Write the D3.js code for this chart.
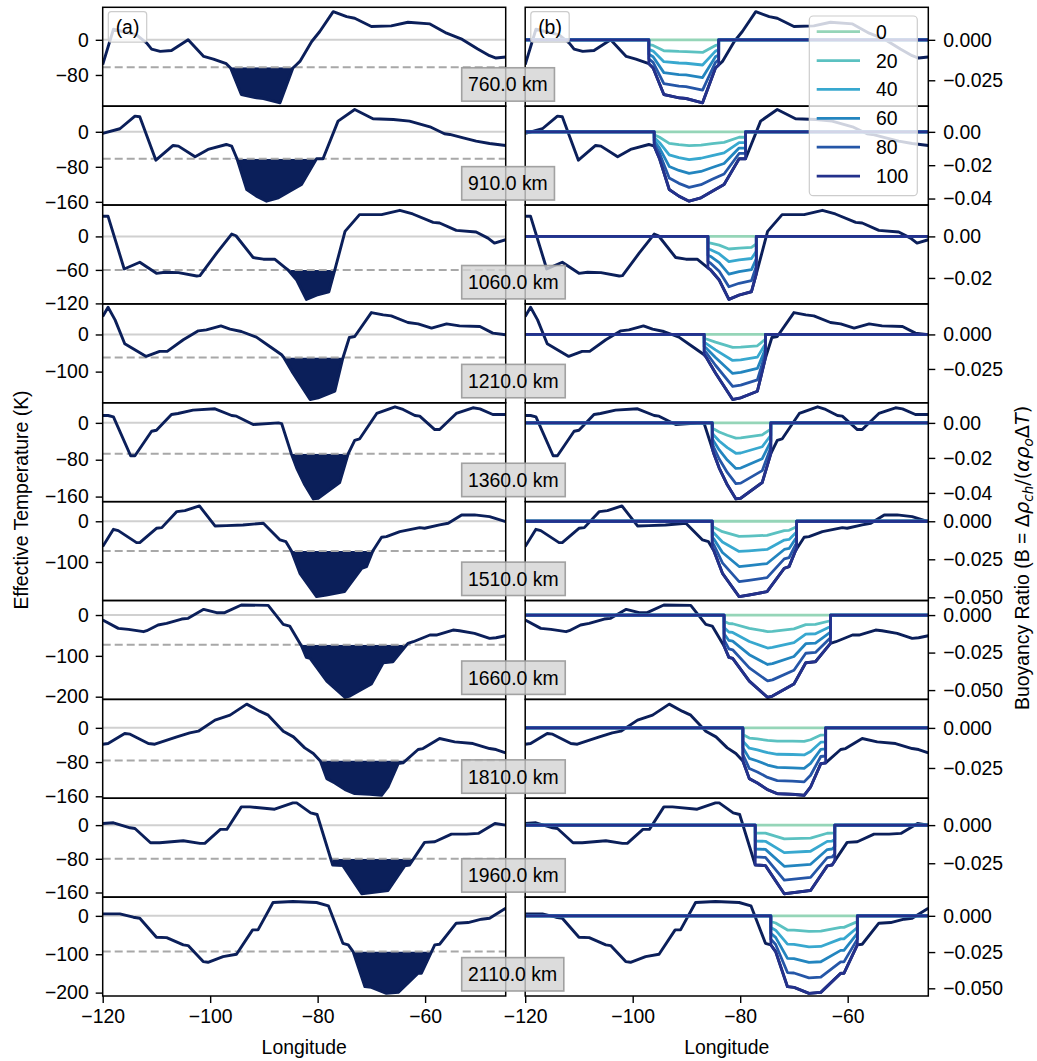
<!DOCTYPE html>
<html>
<head>
<meta charset="utf-8">
<script src="https://cdn.jsdelivr.net/npm/d3@7"></script>
<style>
  body { margin: 0; background: #fff; }
  text { font-family: "Liberation Sans", Arial, sans-serif; }
</style>
</head>
<body>
<svg id="chart" width="1037" height="1061"></svg>
<script>
// ---- data ----
const depthsKm = [760, 910, 1060, 1210, 1360, 1510, 1660, 1810, 1960, 2110];
const thresholds = [-62.6, -61.7, -60, -61.7, -67, -73, -72.8, -76.4, -79.7, -93];
const compositions = [0, 20, 40, 60, 80, 100];
const lonRange = [-120, -45];
const lonTicks = [-120, -100, -80, -60];

const lon760 = [-120, -118, -113.7, -111.8, -110.9, -109.3, -107.2, -104.1, -101.2, -99.4, -97, -96.2, -94.2, -91.4, -90.1, -87, -84.6, -84, -83.3, -81.1, -79.6, -77.1, -74.6, -73.1, -70, -66.3, -63.2, -59.1, -56, -53.3, -50.2, -48, -46.8, -45];
const temp760 = [-56.6, 24, 11.3, -7.5, -21.1, -26.4, -24.2, 0, -37.7, -43.8, -54.3, -64.2, -124.5, -132.1, -133.6, -143.4, -64.2, -57.2, -49.1, -3.8, 18.9, 64.2, 52.8, 49.1, 30.2, 31.7, 40, 36.2, 15.1, 2.3, -21.1, -36.2, -41.5, -39.2];
const lon910 = [-120, -116.8, -114, -113.1, -110.1, -106.9, -105.9, -102.8, -100.4, -97, -96, -95, -93.2, -91.4, -89.5, -87.3, -85.2, -83, -80.2, -79, -76.2, -73.1, -69.7, -65.9, -62.9, -59.1, -56.4, -55.4, -52.9, -50.5, -48, -45];
const temp910 = [-3.8, 6.9, 35.8, 34.3, -64.8, -31.2, -32.8, -57.1, -40.4, -29, -32.8, -61.7, -131.8, -147, -158.5, -150.9, -135.6, -120.4, -61.7, -61.7, 24.4, 51, 29.7, 28.2, 24.4, 11.4, -4.6, -6.1, -13.7, -21.3, -26.7, -31.2];
const lon1060 = [-120, -119, -116, -113.1, -110, -108.4, -105.9, -102.5, -101.9, -98.8, -96, -95.2, -92, -90.1, -88, -86, -85.5, -83.9, -82.1, -80.2, -77.9, -77, -76.8, -74.9, -72.2, -68.1, -64.7, -62.3, -58.5, -57.3, -54.2, -50.5, -48.3, -47.1, -45];
const temp1060 = [36, 36, -58.3, -46.2, -66.1, -64.3, -64.9, -70.9, -70.3, -30, 4.2, 1.2, -37.8, -40.8, -40.8, -56.2, -60.1, -78.1, -112.9, -105.1, -99.1, -67.2, -60.1, 9, 39, 39, 46.8, 40.2, 25.2, 24, 10.8, 7.8, -3, -12, -6];
const lon1210 = [-120, -119, -117.7, -115.9, -111.9, -109.4, -108, -105, -102.2, -100.7, -98, -96.3, -94.2, -91.4, -88.9, -86.7, -86.3, -84.6, -81.4, -79.9, -76.8, -75.3, -74.1, -73.1, -70, -67.8, -66.3, -63.2, -61.3, -58.8, -56, -53.6, -49.8, -47.4, -45];
const temp1210 = [48.3, 73.3, 39.3, -25, -59, -45.6, -45.6, -14.3, 9.8, 12.5, 23.2, 14.3, 8, -7.1, -32.2, -54.5, -61.7, -103.7, -175.2, -170.7, -152.8, -63.4, -8, -5.4, 59, 52.7, 50, 32.2, 28.6, 17, 28.6, 23.2, 21.4, 3.6, -0.9];
const lon1360 = [-120, -119, -118, -114.8, -114, -110.9, -110, -107.2, -106, -103.2, -99.1, -96, -95.1, -92, -87.3, -86.7, -85.2, -84.9, -83.9, -82.4, -80.8, -79.9, -75.9, -74.3, -73.1, -72.2, -69, -65.6, -64.1, -61.9, -61, -58.2, -57.3, -54.2, -51.1, -49.8, -47.4, -45];
const temp1360 = [16, 16, 13.1, -71.3, -71.3, -18.2, -16, 18.2, 20.4, 27.6, 30.5, 16, 14.5, -3.6, 0, -1.5, -56, -66.9, -98.2, -134.5, -165.1, -163.6, -129.5, -66.9, -37.8, -34.9, 20.4, 34.9, 29.1, 16, 14.5, -14.5, -14.5, 20.4, 32.7, 30.5, 18.2, 18.2];
const lon1510 = [-120, -118, -117.1, -113.7, -113.1, -110, -109, -106.2, -104.7, -102, -99.1, -97, -93.9, -90.1, -87, -85.9, -85.2, -84.9, -83.3, -80.2, -78.4, -75, -71.8, -70.9, -69.7, -69.5, -68.1, -67.2, -64.7, -61, -60.1, -57.3, -55.7, -53.2, -50.8, -48, -45];
const temp1510 = [-62.2, -19.7, -22.9, -52.4, -52.4, -17.2, -15.6, 23.8, 26.2, 37.7, -11.5, -10.6, -9, -4.9, -45.9, -50, -65.5, -72.1, -127.8, -185.1, -181, -172.8, -115.5, -111.4, -72.1, -68, -39.3, -37.7, -25.4, -15.6, -17.2, -9, -4.9, 15.6, 15.6, 11.5, -0.8];
const lon1660 = [-120, -117.1, -115.2, -112.4, -111.8, -109.7, -108.1, -105.3, -104.1, -101.2, -98.8, -97.3, -94.2, -89.2, -86.4, -85.2, -83, -82.1, -81.4, -78.3, -74.9, -74, -70, -67.8, -66, -63.2, -62.2, -59.1, -57.9, -54.8, -53.6, -50.8, -48, -46.8, -45];
const temp1660 = [-12.3, -32.7, -35.1, -40.8, -38.4, -24.5, -20.4, -9.8, -8.2, 13.9, 5.7, 5.7, 24.5, 23.7, -22.9, -27, -76, -103.8, -106.2, -161.8, -201.8, -198.5, -169.1, -116.8, -114.4, -69.4, -65.4, -49, -49, -36.8, -38.4, -44.9, -57.2, -55.6, -50.7];
const lon1810 = [-120, -119, -115.9, -114.9, -111.5, -110.3, -106.2, -103.8, -102.2, -99.1, -96.3, -93.2, -90.8, -89.2, -86.4, -84.5, -82.4, -80.8, -79.5, -78.3, -76.8, -74.9, -73.1, -70.3, -68.1, -66.9, -65, -64.1, -61.3, -60.4, -57.3, -54.5, -51.1, -48, -46.8, -45];
const temp1810 = [-38.3, -36.7, -13.3, -14.8, -36.7, -38.3, -21.1, -11.7, -7.8, 18, 29.7, 55.4, 39, 29.7, -7.8, -21.1, -46.8, -60.1, -77.3, -118.7, -128.8, -144.4, -153.8, -155.3, -157.7, -138.2, -83.5, -82, -50.7, -48.4, -25, -32.8, -36.7, -48.4, -50.7, -58.5];
const lon1960 = [-120, -118, -114.9, -114, -111.1, -109.4, -105, -101.9, -101, -98.1, -96.9, -94.2, -92.6, -88, -84.6, -83.9, -81.3, -80.1, -77.2, -75.3, -71.8, -66.9, -63.8, -62.9, -62.4, -60.1, -58.2, -55.1, -52.3, -50.1, -47, -45];
const temp1960 = [3.9, 5.5, -6.3, -7.9, -41.8, -41.8, -37, -43.3, -43.3, -10.2, -10.2, 43.3, 43.3, 37.8, 52.8, 52.8, 29.2, 25.2, -94.6, -96.1, -163.1, -155.2, -96.9, -94.6, -85, -41, -39.4, -21.3, -21.3, -19.7, 3.9, 0];
const lon2110 = [-120, -116.8, -114.3, -113.1, -110, -108.1, -105, -104.1, -101.3, -100.4, -97.6, -95.1, -92.1, -91.1, -88.3, -84.6, -80.2, -78, -75.3, -74.3, -73.4, -71.2, -70, -67.2, -65, -61.3, -60.7, -58.2, -57.3, -54.2, -52, -49.5, -48, -45];
const temp2110 = [5.2, 5.2, -3.5, -6.1, -55.7, -56.6, -75.7, -77.5, -119.2, -121, -106.2, -100.1, -36.6, -36.6, 34.8, 37.4, 34.8, 26.1, -71.4, -75.7, -93.1, -184.5, -186.2, -201.9, -199.3, -149.7, -149.7, -75.7, -74, -19.1, -17.4, -8.7, -6.1, 20];

// longitude span of the chemical anomaly (steps in panel b)
const regionEdges = [[-97, -84], [-96, -79], [-86, -77], [-86.7, -75.3], [-85.2, -74.3], [-85.2, -69.5], [-83, -63.2], [-79.5, -64.1], [-77.2, -62.4], [-74.3, -58.2]];
// buoyancy ratio of the 100 curve at each anomaly vertex
const buoy100_760 = [-0.0147, -0.0174, -0.0338, -0.0358, -0.0362, -0.0389, -0.0174, -0.0155];
const buoy100_910 = [-0.0086, -0.0162, -0.0346, -0.0386, -0.0416, -0.0396, -0.0356, -0.0316, -0.0162, -0.0162];
const buoy100_1060 = [-0.0151, -0.0161, -0.021, -0.0303, -0.0282, -0.0266, -0.018];
const buoy100_1210 = [-0.0147, -0.0166, -0.0279, -0.0471, -0.0459, -0.0411, -0.0171];
const buoy100_1360 = [-0.0147, -0.0176, -0.0258, -0.0354, -0.0434, -0.043, -0.0341, -0.0176];
const buoy100_1510 = [-0.0175, -0.0193, -0.0342, -0.0496, -0.0485, -0.0463, -0.0309, -0.0298, -0.0193, -0.0182];
const buoy100_1660 = [-0.0207, -0.0282, -0.0289, -0.044, -0.0549, -0.054, -0.046, -0.0318, -0.0311, -0.0189];
const buoy100_1810 = [-0.0206, -0.0317, -0.0344, -0.0386, -0.0411, -0.0415, -0.0421, -0.0369, -0.0223, -0.0219];
const buoy100_1960 = [-0.0261, -0.0265, -0.045, -0.0428, -0.0267, -0.0261, -0.0235];
const buoy100_2110 = [-0.0201, -0.0247, -0.0489, -0.0493, -0.0535, -0.0528, -0.0397, -0.0397, -0.0201];

// axis limits and ticks
const tempDomains = [[-151, 74], [-167.3, 58.5], [-120.9, 56.2], [-183.9, 82.3], [-171, 43.6], [-194.6, 48.2], [-206.6, 35.5], [-164.6, 66.5], [-171, 63.8], [-208.8, 48.8]];
const tempTicks = [[0, -80], [0, -80, -160], [0, -60, -120], [0, -100], [0, -80, -160], [0, -100], [0, -100, -200], [0, -80, -160], [0, -80, -160], [0, -100, -200]];
const buoyDomains = [[-0.041, 0.0201], [-0.0439, 0.0154], [-0.0325, 0.0151], [-0.0495, 0.0221], [-0.045, 0.0115], [-0.0521, 0.0129], [-0.0562, 0.0097], [-0.0439, 0.0178], [-0.0472, 0.0176], [-0.0553, 0.0129]];
const buoyTicks = [[0, -0.025], [0, -0.02, -0.04], [0, -0.02], [0, -0.025], [0, -0.02, -0.04], [0, -0.025, -0.05], [0, -0.025, -0.05], [0, -0.025], [0, -0.025], [0, -0.025, -0.05]];
const buoyDecimals = [3, 2, 2, 3, 2, 3, 3, 3, 3, 3];

const lonRows = [lon760, lon910, lon1060, lon1210, lon1360, lon1510, lon1660, lon1810, lon1960, lon2110];
const tempRows = [temp760, temp910, temp1060, temp1210, temp1360, temp1510, temp1660, temp1810, temp1960, temp2110];
const buoyRows = [buoy100_760, buoy100_910, buoy100_1060, buoy100_1210, buoy100_1360, buoy100_1510, buoy100_1660, buoy100_1810, buoy100_1960, buoy100_2110];

// ---- layout ----
const FS = 19.4;
const tempColor = "#0b1f5a";
const compColors = ["#95d5b8", "#5bc1c1", "#38a8cf", "#2385bf", "#2556a7", "#24318c"];
const top0 = 7.3, rowH = 98.87;
const leftR = [102.7, 505.7], rightR = [525.2, 928.3];

const svg = d3.select("#chart");
const defs = svg.append("defs");
const xL = d3.scaleLinear().domain(lonRange).range(leftR);
const xR = d3.scaleLinear().domain(lonRange).range(rightR);

function styleAxis(g) {
  g.select(".domain").remove();
  g.selectAll(".tick line").attr("stroke", "#000").attr("stroke-width", 1.4);
  g.selectAll(".tick text").attr("fill", "#000").style("font-size", FS + "px")
    .style("font-family", '"Liberation Sans", Arial, sans-serif');
}

depthsKm.forEach((depth, i) => {
  const y0 = top0 + i * rowH, y1 = y0 + rowH;
  const yT = d3.scaleLinear().domain(tempDomains[i]).range([y1, y0]);
  const yB = d3.scaleLinear().domain(buoyDomains[i]).range([y1, y0]);
  const thr = thresholds[i];
  const pts = lonRows[i].map((l, j) => [l, tempRows[i][j]]);
  const [eL, eR] = regionEdges[i];

  defs.append("clipPath").attr("id", "cl" + i).append("rect")
    .attr("x", leftR[0]).attr("y", y0).attr("width", leftR[1] - leftR[0]).attr("height", rowH);
  defs.append("clipPath").attr("id", "cr" + i).append("rect")
    .attr("x", rightR[0]).attr("y", y0).attr("width", rightR[1] - rightR[0]).attr("height", rowH);
  // fill only below the threshold and inside the anomaly span
  defs.append("clipPath").attr("id", "cf" + i).append("rect")
    .attr("x", xL(eL)).attr("y", yT(thr)).attr("width", xL(eR) - xL(eL)).attr("height", y1 - yT(thr));

  // panel (a)
  const gl = svg.append("g");
  const inner = gl.append("g").attr("clip-path", `url(#cl${i})`);
  inner.append("line").attr("x1", leftR[0]).attr("x2", leftR[1])
    .attr("y1", yT(0)).attr("y2", yT(0)).attr("stroke", "#d0d0d0").attr("stroke-width", 2);
  inner.append("path").datum(pts).attr("clip-path", `url(#cf${i})`)
    .attr("fill", tempColor)
    .attr("d", d3.area().x(d => xL(d[0])).y0(yT(thr)).y1(d => yT(d[1])));
  inner.append("line").attr("x1", leftR[0]).attr("x2", leftR[1])
    .attr("y1", yT(thr)).attr("y2", yT(thr)).attr("stroke", "#a8a8a8")
    .attr("stroke-width", 2).attr("stroke-dasharray", "8,4");
  inner.append("path").datum(pts).attr("fill", "none").attr("stroke", tempColor)
    .attr("stroke-width", 2.9).attr("stroke-linejoin", "round")
    .attr("d", d3.line().x(d => xL(d[0])).y(d => yT(d[1])));
  gl.append("rect").attr("x", leftR[0]).attr("y", y0).attr("width", leftR[1] - leftR[0])
    .attr("height", rowH).attr("fill", "none").attr("stroke", "#000").attr("stroke-width", 1.5);
  gl.append("g").attr("transform", `translate(${leftR[0]},0)`)
    .call(d3.axisLeft(yT).tickValues(tempTicks[i]).tickFormat(d3.format("d")).tickSize(7).tickPadding(7))
    .call(styleAxis);

  // panel (b)
  const gr = svg.append("g");
  const innerR = gr.append("g").attr("clip-path", `url(#cr${i})`);
  innerR.append("path").datum(pts).attr("fill", "none").attr("stroke", tempColor)
    .attr("stroke-width", 2.9).attr("stroke-linejoin", "round")
    .attr("d", d3.line().x(d => xR(d[0])).y(d => yT(d[1])));
  const inside = pts.filter(p => p[0] >= eL - 1e-6 && p[0] <= eR + 1e-6);
  compositions.forEach((c, ci) => {
    const bPts = [[lonRange[0], 0], [eL, 0]]
      .concat(inside.map((p, j) => [p[0], buoyRows[i][j] * c / 100]))
      .concat([[eR, 0], [lonRange[1], 0]]);
    innerR.append("path").datum(bPts).attr("fill", "none").attr("stroke", compColors[ci])
      .attr("stroke-width", 2.8).attr("stroke-linejoin", "round")
      .attr("d", d3.line().x(d => xR(d[0])).y(d => yB(d[1])));
  });
  gr.append("rect").attr("x", rightR[0]).attr("y", y0).attr("width", rightR[1] - rightR[0])
    .attr("height", rowH).attr("fill", "none").attr("stroke", "#000").attr("stroke-width", 1.5);
  gr.append("g").attr("transform", `translate(${rightR[1]},0)`)
    .call(d3.axisRight(yB).tickValues(buoyTicks[i]).tickFormat(d3.format(`.${buoyDecimals[i]}f`)).tickSize(7).tickPadding(8))
    .call(styleAxis);

  // depth label box
  const lab = svg.append("g");
  const box = lab.append("rect");
  const t = lab.append("text").attr("x", 468).attr("y", y1 - 14.7)
    .style("font-size", FS + "px").attr("fill", "#000").text(`${depth.toFixed(1)} km`);
  const tw = t.node().getComputedTextLength();
  box.attr("x", 461.7).attr("y", y1 - 38.4).attr("width", tw + 13).attr("height", 33.4)
    .attr("fill", "#d3d3d3").attr("fill-opacity", 0.8)
    .attr("stroke", "#999").attr("stroke-opacity", 0.9).attr("stroke-width", 1.6);
});

// bottom longitude axes
const yBottom = top0 + 10 * rowH;
[[xL, leftR], [xR, rightR]].forEach(([xs, r]) => {
  svg.append("g").attr("transform", `translate(0,${yBottom})`)
    .call(d3.axisBottom(xs).tickValues(lonTicks).tickFormat(d3.format("d")).tickSize(7).tickPadding(6))
    .call(styleAxis);
  svg.append("text").attr("x", (r[0] + r[1]) / 2).attr("y", 1054).attr("text-anchor", "middle")
    .style("font-size", FS + "px").text("Longitude");
});

// panel tags
[["(a)", leftR[0]], ["(b)", rightR[0]]].forEach(([s, x]) => {
  svg.append("rect").attr("x", x + 5.6).attr("y", 11.7).attr("width", 38.4).attr("height", 30.5)
    .attr("rx", 3).attr("fill", "#fff").attr("fill-opacity", 0.8)
    .attr("stroke", "#cccccc").attr("stroke-width", 1.2);
  svg.append("text").attr("x", x + 24.8).attr("y", 33.5).attr("text-anchor", "middle")
    .style("font-size", FS + "px").text(s);
});

// legend
const leg = svg.append("g");
leg.append("rect").attr("x", 809.3).attr("y", 16).attr("width", 108).attr("height", 179.7)
  .attr("rx", 4).attr("fill", "#fff").attr("fill-opacity", 0.8)
  .attr("stroke", "#cccccc").attr("stroke-width", 1.2);
compositions.forEach((c, ci) => {
  const y = 31.7 + ci * 28.87;
  leg.append("line").attr("x1", 816.7).attr("x2", 860).attr("y1", y).attr("y2", y)
    .attr("stroke", compColors[ci]).attr("stroke-width", 2.8);
  leg.append("text").attr("x", 876).attr("y", y + 7).style("font-size", FS + "px").text(c);
});

// axis titles
svg.append("text").attr("transform", "translate(28,500) rotate(-90)").attr("text-anchor", "middle")
  .style("font-size", FS + "px").text("Effective Temperature (K)");
const rt = svg.append("text").attr("transform", "translate(1029,710) rotate(-90)")
  .attr("text-anchor", "start").style("font-size", FS + "px");
rt.append("tspan").text("Buoyancy Ratio (B = ");
const m = '"DejaVu Sans", sans-serif';
rt.append("tspan").style("font-family", m).text("Δ");
rt.append("tspan").style("font-family", m).style("font-style", "italic").text("ρ");
rt.append("tspan").style("font-family", m).style("font-style", "italic").style("font-size", "13.5px").attr("dy", 4).text("ch");
rt.append("tspan").style("font-family", m).attr("dy", -4).text("/(");
rt.append("tspan").style("font-family", m).style("font-style", "italic").text("αρ");
rt.append("tspan").style("font-family", m).style("font-style", "italic").style("font-size", "13.5px").attr("dy", 4).text("o");
rt.append("tspan").style("font-family", m).attr("dy", -4).text("Δ");
rt.append("tspan").style("font-family", m).style("font-style", "italic").text("T");
rt.append("tspan").style("font-family", m).text(")");
</script>
</body>
</html>
